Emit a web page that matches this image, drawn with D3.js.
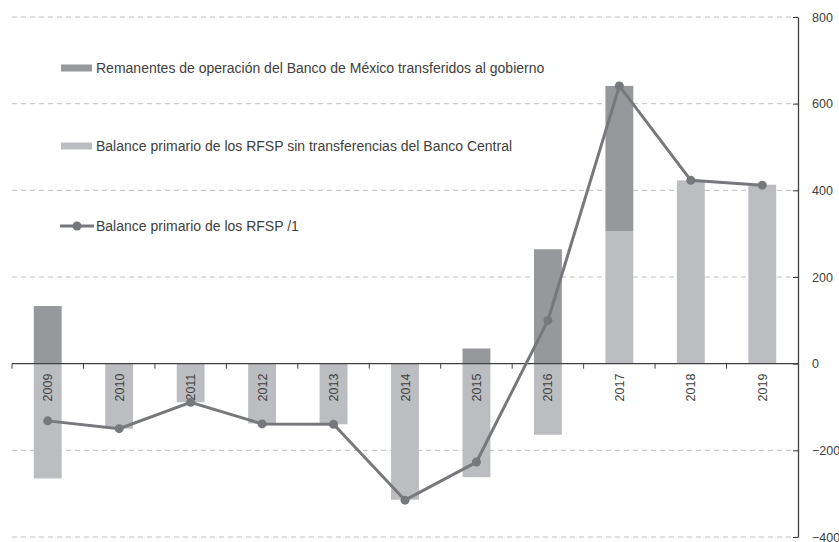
<!DOCTYPE html>
<html>
<head>
<meta charset="utf-8">
<script src="https://cdn.jsdelivr.net/npm/d3@7"></script>
<style>
  body { margin: 0; background: #fff; }
  text { font-family: "Liberation Sans", Arial, sans-serif; fill: #404040; }
</style>
</head>
<body>
<script>
// data
var years = ["2009", "2010", "2011", "2012", "2013", "2014", "2015", "2016", "2017", "2018", "2019"];
var sinTransferencias = [-265, -150, -89, -138, -140, -314, -262, -164, 306, 423, 413];
var remanentes = [133, 0, 0, 0, 0, 0, 35, 264, 335, 0, 0];
var balance = [-132, -150, -89, -139, -140, -315, -227, 100, 641, 423, 412];
var yTicks = [-400, -200, 0, 200, 400, 600, 800];

var seriesNames = [
    "Remanentes de operación del Banco de México transferidos al gobierno",
    "Balance primario de los RFSP sin transferencias del Banco Central",
    "Balance primario de los RFSP /1"
];

var w = 839, h = 542;
var colDark = "#97989b", colLight = "#bcbdc0", colLine = "#77787b", colAxis = "#404040";

var svg = d3.select("body").append("svg")
    .attr("width", w)
    .attr("height", h);

var xScale = d3.scaleBand()
    .domain(years)
    .range([12, 798])
    .paddingInner(0.61)
    .paddingOuter(0.305);

var yScale = d3.scaleLinear()
    .domain([-400, 800])
    .range([537, 17]);

// gridlines
svg.append("g").selectAll("line")
    .data(yTicks.filter(function(d) { return d != 0; }))
    .enter().append("line")
    .attr("x1", 12)
    .attr("x2", 798)
    .attr("y1", function(d) { return yScale(d); })
    .attr("y2", function(d) { return yScale(d); })
    .attr("stroke", "#bfbfbf")
    .attr("stroke-dasharray", "5,4");

// stacked bars
var rows = years.map(function(y, i) {
    return { year: y, light: sinTransferencias[i], dark: remanentes[i] };
});
var stacked = d3.stack()
    .keys(["light", "dark"])
    .offset(d3.stackOffsetDiverging)(rows);

svg.append("g").selectAll("g")
    .data(stacked)
    .enter().append("g")
    .attr("fill", function(d) { return d.key == "light" ? colLight : colDark; })
    .selectAll("rect")
    .data(function(d) { return d; })
    .enter().append("rect")
    .attr("x", function(d) { return xScale(d.data.year); })
    .attr("width", xScale.bandwidth())
    .attr("y", function(d) { return yScale(Math.max(d[0], d[1])); })
    .attr("height", function(d) { return Math.abs(yScale(d[0]) - yScale(d[1])); });

// x axis at zero
var step = xScale.step();
var xAxis = svg.append("g");
xAxis.append("line")
    .attr("x1", 12).attr("x2", 798)
    .attr("y1", yScale(0)).attr("y2", yScale(0))
    .attr("stroke", colAxis).attr("stroke-width", 1.3);
xAxis.selectAll("line.tick")
    .data(d3.range(years.length))
    .enter().append("line")
    .attr("class", "tick")
    .attr("x1", function(i) { return 12 + i * step; })
    .attr("x2", function(i) { return 12 + i * step; })
    .attr("y1", yScale(0)).attr("y2", yScale(0) + 5)
    .attr("stroke", colAxis);
xAxis.selectAll("text")
    .data(years)
    .enter().append("text")
    .attr("transform", function(d) {
        return "translate(" + (xScale(d) + xScale.bandwidth() / 2 + 4.5) + "," + (yScale(0) + 10) + ") rotate(-90)";
    })
    .attr("text-anchor", "end")
    .attr("font-size", "12.5px")
    .text(function(d) { return d; });

// right y axis
var yAxis = svg.append("g")
    .attr("transform", "translate(798,0)")
    .call(d3.axisRight(yScale).tickValues(yTicks).tickSize(0).tickPadding(14));
yAxis.select(".domain").attr("stroke", colAxis).attr("stroke-width", 1.3);
yAxis.selectAll(".tick text")
    .attr("font-size", "12.5px")
    .attr("font-family", "Liberation Sans, Arial, sans-serif")
    .attr("fill", colAxis);
yAxis.selectAll(".tick").append("line")
    .attr("x1", -5).attr("x2", 0)
    .attr("stroke", colAxis);

// line series
var line = d3.line()
    .x(function(d, i) { return xScale(years[i]) + xScale.bandwidth() / 2; })
    .y(function(d) { return yScale(d); });

svg.append("path")
    .datum(balance)
    .attr("d", line)
    .attr("fill", "none")
    .attr("stroke", colLine)
    .attr("stroke-width", 3);

svg.append("g").selectAll("circle")
    .data(balance)
    .enter().append("circle")
    .attr("cx", function(d, i) { return xScale(years[i]) + xScale.bandwidth() / 2; })
    .attr("cy", function(d) { return yScale(d); })
    .attr("r", 4.5)
    .attr("fill", colLine);

// legend
var legend = svg.append("g");
var legY = [68, 146, 226];

legend.append("rect")
    .attr("x", 61).attr("y", legY[0] - 3.5).attr("width", 31).attr("height", 7)
    .attr("fill", colDark);
legend.append("rect")
    .attr("x", 61).attr("y", legY[1] - 3.5).attr("width", 31).attr("height", 7)
    .attr("fill", colLight);
legend.append("line")
    .attr("x1", 60).attr("x2", 94)
    .attr("y1", legY[2]).attr("y2", legY[2])
    .attr("stroke", colLine).attr("stroke-width", 3);
legend.append("circle")
    .attr("cx", 77).attr("cy", legY[2]).attr("r", 4.5)
    .attr("fill", colLine);

legend.selectAll("text")
    .data(seriesNames)
    .enter().append("text")
    .attr("x", 96)
    .attr("y", function(d, i) { return legY[i]; })
    .attr("dy", "0.35em")
    .attr("font-size", "14px")
    .text(function(d) { return d; });
</script>
</body>
</html>
